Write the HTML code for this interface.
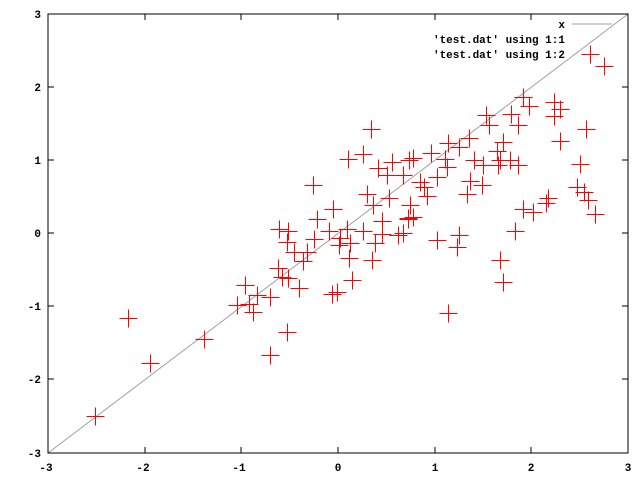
<!DOCTYPE html>
<html><head><meta charset="utf-8"><style>
html,body{margin:0;padding:0;background:#fff;}
svg{display:block;}
text{font-family:"Liberation Mono",monospace;font-size:11px;font-weight:bold;fill:#000;}
</style></head><body>
<svg width="640" height="480" viewBox="0 0 640 480" xmlns="http://www.w3.org/2000/svg">
<rect width="640" height="480" fill="#fff"/>
<line x1="48" y1="453" x2="628" y2="14" stroke="#a0a0a0" stroke-width="1"/>
<line x1="572" y1="24" x2="612" y2="24" stroke="#a0a0a0" stroke-width="1"/>
<g stroke="#000" stroke-width="1">
<path d="M48,14V453H628V14Z" fill="none"/>
<path d="M48,14h6M48,87h6M48,160h6M48,233h6M48,306h6M48,379h6M48,453h6M628,14h-6M628,87h-6M628,160h-6M628,233h-6M628,306h-6M628,379h-6M628,453h-6"/>
<path d="M48,453v-6M145,453v-6M241,453v-6M338,453v-6M435,453v-6M531,453v-6M628,453v-6M48,14v6M145,14v6M241,14v6M338,14v6M435,14v6M531,14v6M628,14v6"/>
</g>
<g text-anchor="end">
<text x="41" y="18">3</text><text x="41" y="91">2</text><text x="41" y="164">1</text><text x="41" y="237">0</text><text x="41" y="310">-1</text><text x="41" y="383">-2</text><text x="41" y="457">-3</text>
</g>
<g text-anchor="middle">
<text x="46" y="471">-3</text><text x="143" y="471">-2</text><text x="239" y="471">-1</text><text x="338" y="471">0</text><text x="435" y="471">1</text><text x="531" y="471">2</text><text x="628" y="471">3</text>
</g>
<g text-anchor="end">
<text x="565" y="28">x</text>
<text x="565" y="43">'test.dat' using 1:1</text>
<text x="565" y="58">'test.dat' using 1:2</text>
</g>
<g id="pts" stroke="#ff0000" stroke-width="1" fill="none"></g>
</svg>
<script>
var p=[[95,416],[128,318],[150,363],[204,339],[270,355],[287,332],[348,159],[363,154],[378,168],[392,162],[387,175],[403,175],[313,185],[367,194],[373,205],[389,198],[333,209],[317,219],[279,229],[288,231],[382,221],[408,219],[329,231],[347,229],[363,231],[314,239],[287,242],[340,238],[339,245],[350,243],[375,243],[382,234],[398,235],[294,252],[307,252],[303,261],[349,258],[372,260],[278,268],[282,277],[288,278],[299,288],[352,280],[332,294],[337,292],[245,285],[257,295],[270,297],[237,305],[249,304],[253,312],[523,97],[529,106],[554,102],[560,109],[554,116],[486,115],[511,114],[489,125],[518,125],[586,129],[560,141],[448,143],[459,147],[469,138],[503,142],[497,151],[431,153],[413,158],[409,160],[445,159],[474,160],[500,160],[510,160],[483,165],[498,165],[518,165],[447,167],[580,164],[403,175],[437,177],[420,182],[424,187],[470,181],[482,185],[577,187],[427,196],[467,194],[584,192],[588,200],[410,205],[548,198],[546,203],[413,217],[408,218],[595,214],[523,209],[533,212],[403,233],[515,231],[437,240],[459,235],[457,247],[500,260],[503,282],[448,313],[590,54],[604,66],[371,129]];
var g=document.getElementById('pts'),d='';
p.forEach(function(a){var x=a[0]+.5,y=a[1]+.5;d+='M'+(x-9)+','+y+'h18M'+x+','+(y-9)+'v18';});
var e=document.createElementNS('http://www.w3.org/2000/svg','path');e.setAttribute('d',d);g.appendChild(e);
</script>
</body></html>
